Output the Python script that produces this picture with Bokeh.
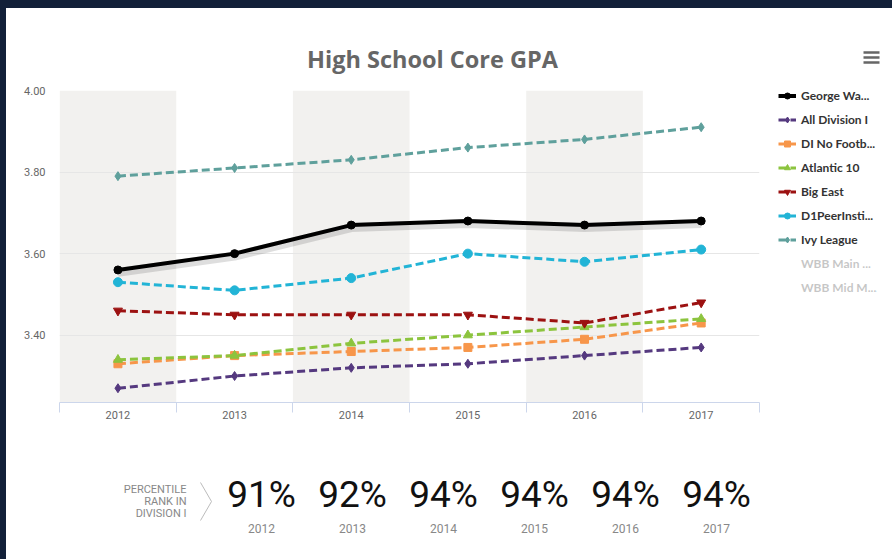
from bokeh.plotting import figure
from bokeh.models import (ColumnDataSource, Range1d, FixedTicker, Legend, LegendItem,
                          NumeralTickFormatter, GlobalInlineStyleSheet)
from bokeh.core.properties import value
from bokeh.transform import dodge
from bokeh.embed import file_html
from bokeh.resources import INLINE

# ---------------- data ----------------
years = [2012, 2013, 2014, 2015, 2016, 2017]
george_washington = [3.56, 3.60, 3.67, 3.68, 3.67, 3.68]
all_division_1 = [3.27, 3.30, 3.32, 3.33, 3.35, 3.37]
di_no_football = [3.33, 3.35, 3.36, 3.37, 3.39, 3.43]
atlantic_10 = [3.34, 3.35, 3.38, 3.40, 3.42, 3.44]
big_east = [3.46, 3.45, 3.45, 3.45, 3.43, 3.48]
d1_peer = [3.53, 3.51, 3.54, 3.60, 3.58, 3.61]
ivy_league = [3.79, 3.81, 3.83, 3.86, 3.88, 3.91]
wbb_main = []   # hidden series
wbb_mid = []    # hidden series
y_ticks = [3.40, 3.60, 3.80, 4.00]
percentile_rank = [91, 92, 94, 94, 94, 94]
title_text = "High School Core GPA"
rank_caption = ["PERCENTILE", "RANK IN", "DIVISION I"]

series = [
    ("George Wa...", george_washington, "#000000", "circle", 8, "solid", 4, False),
    ("All Division I", all_division_1, "#55397f", "diamond", 9, "8 4", 3, False),
    ("DI No Footb...", di_no_football, "#f7964a", "square", 8, "8 4", 3, False),
    ("Atlantic 10", atlantic_10, "#8cc43e", "triangle", 9, "8 4", 3, False),
    ("Big East", big_east, "#9c1111", "inverted_triangle", 9, "8 4", 3, False),
    ("D1PeerInsti...", d1_peer, "#22b4d6", "circle", 9, "8 4", 3, False),
    ("Ivy League", ivy_league, "#5fa09c", "diamond", 9, "8 4", 3, False),
    ("WBB Main ...", wbb_main, "#444444", "square", 8, "8 4", 3, True),
    ("WBB Mid M...", wbb_mid, "#444444", "triangle", 9, "8 4", 3, True),
]

FONT = "Roboto"
HFONT = "Open Sans"
LFONT = "Lato"
W = 890
FRAME_L, FRAME_R = 59, 759
frame_css = GlobalInlineStyleSheet(css=(
    "html{background:linear-gradient(#122039,#122039) 0 0/100% 8px no-repeat,"
    "linear-gradient(#122039,#122039) 0 0/6px 100% no-repeat,#ffffff;}"))


def pixel_fig(h, **kw):
    f = figure(width=W, height=h, output_backend="svg", toolbar_location=None,
               x_range=Range1d(0, W), y_range=Range1d(h, 0),
               x_axis_location=None, y_axis_location=None, min_border=0,
               background_fill_alpha=0, border_fill_alpha=0, **kw)
    f.outline_line_color = None
    f.grid.visible = False
    return f


# ---------------- header (title + menu icon) ----------------
head = pixel_fig(80, stylesheets=[frame_css])
head.text(x=[432], y=[58], text=[title_text], text_font=value(HFONT), text_font_size="23.5px",
          text_font_style="bold", text_color="#666666", text_align="center",
          text_baseline="middle")
head.segment(x0=[863, 863, 863], y0=[52, 57, 62], x1=[879, 879, 879], y1=[52, 57, 62],
             line_color="#666666", line_width=2.5)

# ---------------- main chart ----------------
x_start = years[0] - 0.501
p = figure(frame_width=FRAME_R - FRAME_L, frame_height=312,
           output_backend="svg", toolbar_location=None,
           x_range=Range1d(x_start, years[-1] + 0.5),
           y_range=Range1d(3.235, 4.0),
           min_border_left=FRAME_L, min_border_right=W - FRAME_R,
           min_border_top=10, min_border_bottom=36,
           background_fill_color="white", border_fill_alpha=0)
p.outline_line_color = None

boundaries = [y - 0.5 for y in years] + [years[-1] + 0.5]

p.xaxis.ticker = FixedTicker(ticks=years, minor_ticks=boundaries)
p.xaxis.axis_line_color = "#ccd6eb"
p.xaxis.major_tick_line_color = None
p.xaxis.minor_tick_line_color = "#ccd6eb"
p.xaxis.minor_tick_in = 0
p.xaxis.minor_tick_out = 10
p.xaxis.major_tick_out = 0
p.xaxis.major_label_standoff = -2
p.xaxis.major_label_text_font = FONT
p.xaxis.major_label_text_font_size = "11px"
p.xaxis.major_label_text_color = "#666666"

p.yaxis.ticker = FixedTicker(ticks=y_ticks)
p.yaxis.formatter = NumeralTickFormatter(format="0.00")
p.yaxis.axis_line_color = None
p.yaxis.major_tick_line_color = None
p.yaxis.minor_tick_line_color = None
p.yaxis.major_tick_out = 0
p.yaxis.major_label_standoff = 14
p.yaxis.major_label_text_font = FONT
p.yaxis.major_label_text_font_size = "11px"
p.yaxis.major_label_text_color = "#666666"

# alternate year bands (shaded band on the first year)
p.xgrid.ticker = FixedTicker(ticks=[x_start] + boundaries)
p.xgrid.grid_line_color = None
p.xgrid.band_fill_color = "#f2f1ef"
p.xgrid.band_fill_alpha = 1
p.ygrid.ticker = FixedTicker(ticks=y_ticks)
p.ygrid.grid_line_color = "#e6e6e6"

items = []
for label, vals, color, marker, size, dash, width, hidden in series:
    src = ColumnDataSource(dict(x=years[:len(vals)], y=vals))
    if label.startswith("George"):
        p.line(x="x", y=dodge("y", -0.006, range=p.y_range), source=src,
               line_color="black", line_alpha=0.13, line_width=9)
    ln = p.line(x="x", y="y", source=src, line_color=color, line_width=width, line_dash=dash)
    sc = p.scatter(x="x", y="y", source=src, marker=marker, size=size,
                   fill_color=color, line_color=color)
    rs = [ln, sc]
    if hidden:
        for r in rs:
            r.visible = False
    items.append(LegendItem(label=label, renderers=rs))

legend = Legend(items=items, location=(19, 107), click_policy="hide",
                label_text_font=LFONT, label_text_font_size="12px",
                label_text_font_style="bold", label_text_color="#333333",
                glyph_width=18, glyph_height=15, label_height=15, label_standoff=5,
                spacing=9, padding=0, margin=0, border_line_color=None,
                background_fill_alpha=0, inactive_fill_color="white", inactive_fill_alpha=0.72)
p.add_layout(legend, "right")

# ---------------- percentile strip ----------------
strip_fig = pixel_fig(120)
pct_x = [261 + 91 * i for i in range(len(years))]
strip = ColumnDataSource(dict(x=pct_x, pct=[f"{v}%" for v in percentile_rank],
                              yr=[str(y) for y in years]))
strip_fig.text(x="x", y=56, text="pct", source=strip, text_font=value(FONT),
               text_font_size="37px", text_color="#111111", text_align="center",
               text_baseline="middle")
strip_fig.text(x="x", y=90, text="yr", source=strip, text_font=value(FONT),
               text_font_size="12px", text_color="#888888", text_align="center",
               text_baseline="middle")
strip_fig.text(x=[186, 186, 186], y=[51, 63, 75], text=rank_caption,
               text_font=value(FONT), text_font_size="11px", text_color="#888888",
               text_align="right", text_baseline="middle")
strip_fig.line(x=[200, 211, 200], y=[44, 63, 82], line_color="#bbbbbb", line_width=1)

open("out.html", "w").write(file_html([head, p, strip_fig], INLINE))
